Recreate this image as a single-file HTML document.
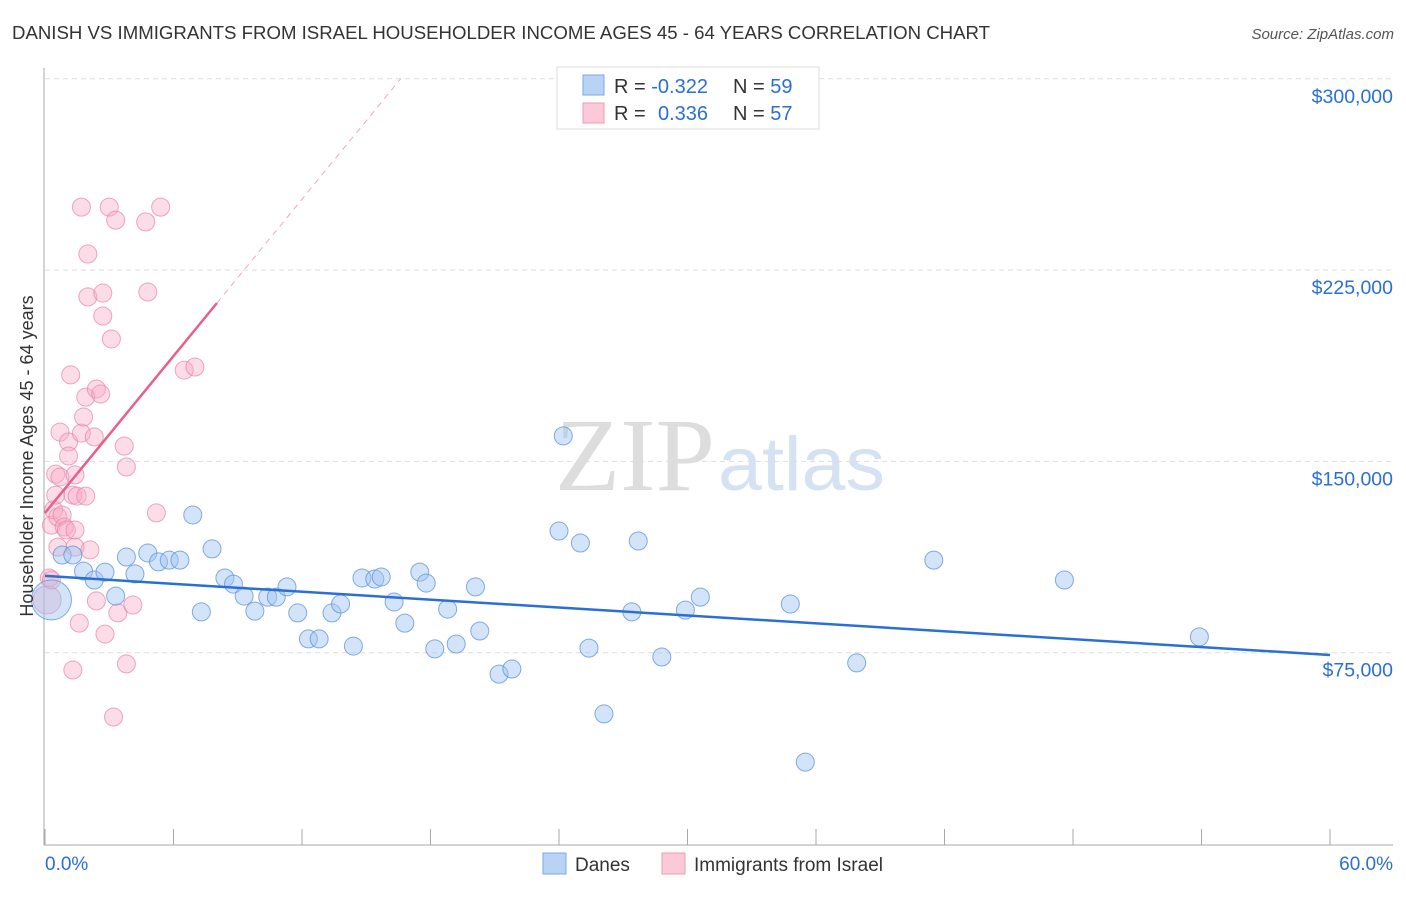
<!DOCTYPE html>
<html><head><meta charset="utf-8"><style>
body{margin:0;background:#fff;font-family:"Liberation Sans",sans-serif;}
svg text{font-family:"Liberation Sans",sans-serif;}
</style></head><body>
<svg id="chart" width="1406" height="892" xmlns="http://www.w3.org/2000/svg">
<text x="12" y="39" font-size="18" fill="#333" textLength="978" lengthAdjust="spacingAndGlyphs">DANISH VS IMMIGRANTS FROM ISRAEL HOUSEHOLDER INCOME AGES 45 - 64 YEARS CORRELATION CHART</text>
<text x="1394" y="39" font-size="15" fill="#555" font-style="italic" text-anchor="end">Source: ZipAtlas.com</text>
<g>
<text x="555" y="490" font-size="104" fill="#ddd" textLength="160" lengthAdjust="spacingAndGlyphs" style="font-family:'Liberation Serif',serif">ZIP</text>
<text x="718" y="490" font-size="76" fill="#d4e2f4" textLength="167" lengthAdjust="spacingAndGlyphs">atlas</text>
</g>
<g id="grid"></g>
<g id="axes"></g>
<g id="marks"></g>
<g>
<rect x="557" y="67" width="262" height="62" fill="#fff" stroke="#ddd"/>
<rect x="583" y="75" width="21" height="20" fill="#b9d3f5" stroke="#7aa8e6"/>
<rect x="583" y="103" width="21" height="20" fill="#fbc9d8" stroke="#ee9bb5"/>
<text x="614" y="93" font-size="20" fill="#333">R = <tspan fill="#2a6fd6">-0.322</tspan></text>
<text x="733" y="93" font-size="20" fill="#333">N = <tspan fill="#2a6fd6">59</tspan></text>
<text x="614" y="120" font-size="20" fill="#333">R = <tspan fill="#2a6fd6" x="658">0.336</tspan></text>
<text x="733" y="120" font-size="20" fill="#333">N = <tspan fill="#2a6fd6">57</tspan></text>
</g>
<g>
<rect x="543" y="853" width="23" height="21" fill="#b9d3f5" stroke="#7aa8e6"/>
<text x="575" y="871" font-size="19" fill="#333">Danes</text>
<rect x="662" y="853" width="23" height="21" fill="#fbc9d8" stroke="#ee9bb5"/>
<text x="694" y="871" font-size="19" fill="#333">Immigrants from Israel</text>
</g>
<text transform="translate(33,456) rotate(-90)" font-size="18" fill="#333" text-anchor="middle">Householder Income Ages 45 - 64 years</text>
</svg>
<script>
const yTicks=[75000,150000,225000,300000];
const yTickLabels=["$75,000","$150,000","$225,000","$300,000"];
const xTickCount=[0,6,12,18,24,30,36,42,48,54,60];
const danesX=[0.3,0.8,1.3,1.8,2.3,2.8,3.3,3.8,4.2,4.8,5.3,5.8,6.3,6.9,7.3,7.8,8.4,8.8,9.3,9.8,10.4,10.8,11.3,11.8,12.3,12.8,13.4,13.8,14.4,14.8,15.4,15.7,16.3,16.8,17.5,17.8,18.2,18.8,19.2,20.1,20.3,21.2,21.8,24,24.2,25,25.4,26.1,27.4,27.7,28.8,29.9,30.6,34.8,35.5,37.9,41.5,47.6,53.9];
const danesY=[95.7,113.3,113.3,107,103.5,106.6,97.2,112.5,105.9,114.1,110.6,111.3,111.3,129,91,115.7,104.3,101.9,97.2,91.3,96.8,96.8,100.8,90.6,80.4,80.4,90.6,94.1,77.6,104.3,103.9,104.7,94.9,86.6,106.6,102.3,76.5,92.1,78.4,100.8,83.5,66.6,68.6,122.7,160,118,76.8,51,91,118.8,73.3,91.7,96.8,94.1,32.1,71,111.3,103.5,81.2];
const israelX=[0.1,0.2,0.3,0.3,0.4,0.5,0.5,0.6,0.6,0.7,0.7,0.8,0.9,1,1.1,1.1,1.2,1.3,1.3,1.4,1.4,1.4,1.5,1.6,1.7,1.7,1.8,1.9,1.9,2,2,2.1,2.3,2.4,2.4,2.6,2.7,2.7,2.8,3.0,3.1,3.2,3.3,3.4,3.7,3.8,3.8,4.1,4.7,4.8,5.2,5.4,6.5,7];
const israelY=[95.7,104.3,103.5,125,131,136.8,145,116.4,128.2,143.9,161.5,129,124.3,123.1,157.6,152.1,183.9,68.2,136.8,144.7,123.1,116.4,136.4,86.6,249.7,161.1,167.4,175.2,136.4,214.5,231.3,115.3,159.6,178.4,95.3,176.4,216,207,82.3,249.7,198,49.8,244.6,90.6,156,147.8,70.6,93.7,243.9,216.4,129.8,249.7,185.8,187];
const bigIdx=0;
const danesTrend=[105.1,74.1];
const israelTrend=[129.8,10.25];
const NS='http://www.w3.org/2000/svg';
const X=p=>45+p/60*1285;
const Y=k=>844-k/75*191.3;
function mk(tag,attrs,parent){const e=document.createElementNS(NS,tag);for(const k in attrs)e.setAttribute(k,attrs[k]);parent.appendChild(e);return e;}
const grid=document.getElementById('grid'),axes=document.getElementById('axes'),marks=document.getElementById('marks');
yTicks.forEach((v,i)=>{
 const l=mk('line',{x1:45,x2:1393,y1:Y(v/1000),y2:Y(v/1000),stroke:'#ddd','stroke-dasharray':'5,4'},grid);
 
 
 const t=mk('text',{x:1393,y:Y(v/1000)+24,'font-size':19.5,fill:'#2a6fd6','text-anchor':'end'},axes);
 t.textContent=yTickLabels[i];
 
 
});
const la=mk('line',{x1:44,x2:44,y1:68,y2:845,stroke:'#aaa'},axes);


const ba=mk('line',{x1:44,x2:1393,y1:845,y2:845,stroke:'#aaa'},axes);


xTickCount.forEach(v=>{
 const t=mk('line',{x1:X(v),x2:X(v),y1:829,y2:845,stroke:'#aaa'},axes);
 
 
});
const x0=mk('text',{x:45,y:870,'font-size':19,fill:'#2a6fd6'},axes);x0.textContent='0.0%';


const x1=mk('text',{x:1393,y:870,'font-size':19,fill:'#2a6fd6','text-anchor':'end'},axes);x1.textContent='60.0%';


israelX.forEach((x,i)=>{
 const c=mk('circle',{cx:X(x),cy:Y(israelY[i]),r:i===bigIdx?14:9,fill:'rgba(247,170,195,0.4)',stroke:'rgba(232,130,165,0.7)','stroke-width':1},marks);
 
 
});
danesX.forEach((x,i)=>{
 const c=mk('circle',{cx:X(x),cy:Y(danesY[i]),r:i===bigIdx?20:9,fill:'rgba(160,196,240,0.45)',stroke:'rgba(90,145,220,0.75)','stroke-width':1},marks);
 
 
});
const bt=mk('line',{x1:X(0),y1:Y(danesTrend[0]),x2:X(60),y2:Y(danesTrend[1]),stroke:'#2a6fd6','stroke-width':2.5},marks);


const pe=8.03,pd=(300-israelTrend[0])/israelTrend[1];
const pt=mk('line',{x1:X(0),y1:Y(israelTrend[0]),x2:X(pe),y2:Y(israelTrend[0]+israelTrend[1]*pe),stroke:'#e8608a','stroke-width':2.5},marks);


const pdl=mk('line',{x1:X(pe),y1:Y(israelTrend[0]+israelTrend[1]*pe),x2:X(pd),y2:Y(300),stroke:'#f0a8bf','stroke-width':1,'stroke-dasharray':'6,5'},marks);


</script>
</body></html>
